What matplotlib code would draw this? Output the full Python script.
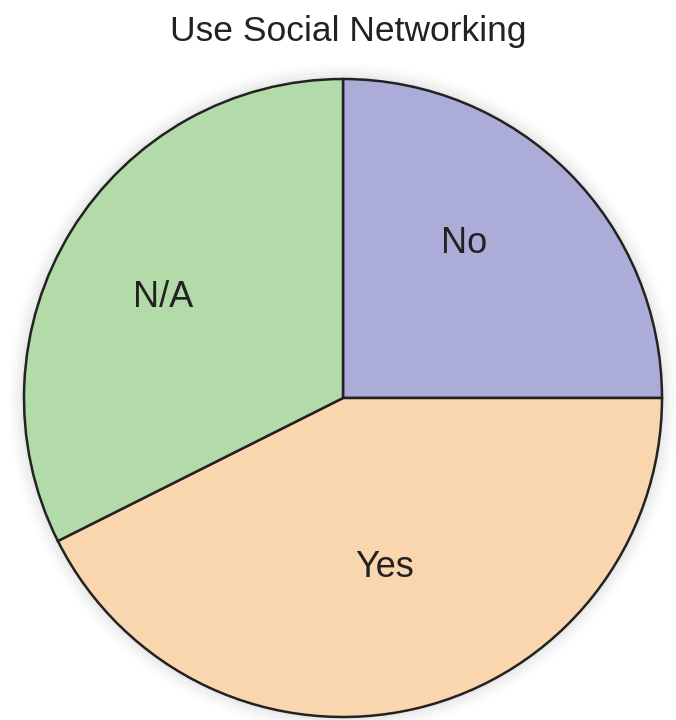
import matplotlib.pyplot as plt
from matplotlib.patches import Circle

labels = ['No', 'Yes', 'N/A']
shares = [25.0, 42.6, 32.4]  # percent of respondents
colors = ['#ACACD8', '#F9D6AD', '#B3DAA9']

# label anchor (centre x, baseline y) inside each wedge, pie data coords
label_xy = [(0.379, 0.455), (0.129, -0.561), (-0.564, 0.285)]

plt.rcParams['font.family'] = ['Liberation Sans', 'DejaVu Sans']

fig = plt.figure(figsize=(6.76, 7.2), dpi=100)
r_px = 319
cx, cy = 343, 720 - 398
ax = fig.add_axes([(cx - r_px) / 676, (cy - r_px) / 720, 2 * r_px / 676, 2 * r_px / 720])

# soft grey halo round the disc
for i, a in enumerate([0.06, 0.045, 0.03, 0.02]):
    ax.add_patch(Circle((0, 0), 1.0 + 0.012 * (i + 1), color='#777777', alpha=a, lw=0,
                        zorder=0, clip_on=False))

wedges, _ = ax.pie(shares, colors=colors, startangle=90, counterclock=False,
                   radius=1.0, wedgeprops=dict(edgecolor='#222222', linewidth=1.8))
for w in wedges:
    w.set_zorder(2)

for lab, (x, y) in zip(labels, label_xy):
    ax.text(x, y, lab, ha='center', va='baseline', fontsize=26, color='#222222', zorder=3)

ax.set_xlim(-1, 1)
ax.set_ylim(-1, 1)
ax.set_aspect('equal')
ax.axis('off')

fig.text(348 / 676, 1 - 41 / 720, 'Use Social Networking', ha='center', va='baseline',
         fontsize=25.5, color='#222222')

fig.savefig('out.png', dpi=100)
